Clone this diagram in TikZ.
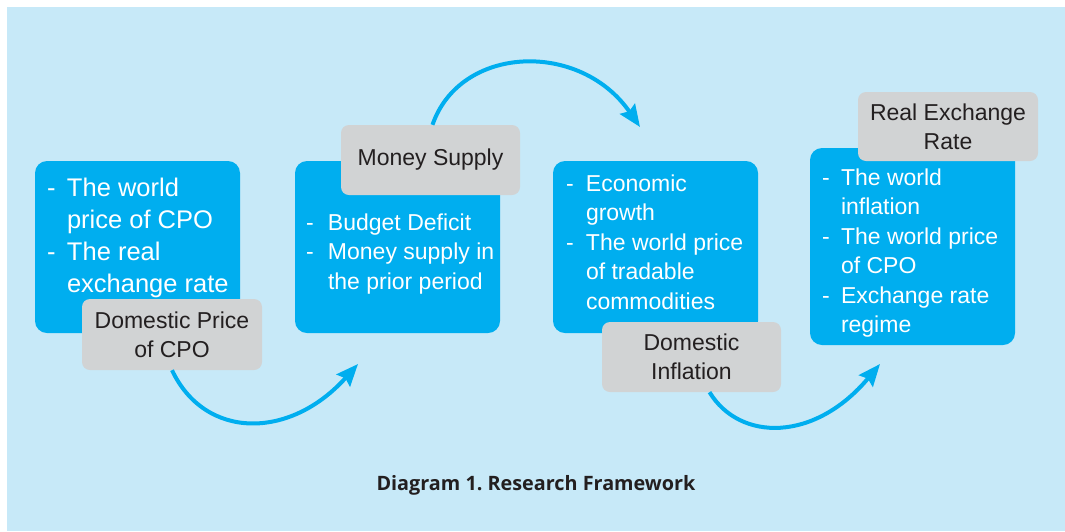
\documentclass[tikz,border=0pt]{standalone}
\usepackage{fontspec}
\setmainfont{Liberation Sans}
\newfontfamily\capfont{Open Sans}
\usetikzlibrary{arrows.meta}
\definecolor{bgblue}{HTML}{C7E9F8}
\definecolor{boxblue}{HTML}{00AEEF}
\definecolor{boxgray}{HTML}{D1D3D4}
\definecolor{darktext}{HTML}{231F20}
\newcommand\dsh[1]{\makebox[#1][l]{-}}
\tikzset{
  bluebox/.style={fill=boxblue, draw=none, rounded corners=12pt, inner sep=0pt, minimum width=205pt},
  graybox/.style={fill=boxgray, draw=none, rounded corners=8pt, inner sep=0pt, minimum width=179pt, minimum height=70pt, align=center, text=darktext, font=\fontsize{23}{29}\selectfont},
  itemtext/.style={anchor=text, inner sep=0pt, text=white},
  flow/.style={draw=boxblue, line width=4pt, -{Stealth[length=22pt,width=18pt,inset=3pt]}}
}
\begin{document}
\begin{tikzpicture}[x=1pt,y=-1pt]
\useasboundingbox (0,0) rectangle (1065,531);
\fill[white] (0,0) rectangle (1065,531);
\fill[bgblue] (7,7) rectangle (1065,531);

% blue boxes
\node[bluebox, minimum height=172pt] (b1) at (137.5,247) {};
\node[bluebox, minimum height=172pt] (b2) at (397.5,247) {};
\node[bluebox, minimum height=172pt] (b3) at (655.5,247) {};
\node[bluebox, minimum height=197pt] (b4) at (912.5,246.5) {};

% texts in blue boxes
\node[itemtext, font=\fontsize{25.5}{32}\selectfont] (t1) at (47,196) {\begin{tabular}[t]{@{}l@{}l@{}}
\dsh{20pt} & The world\\ & price of CPO\\ \dsh{20pt} & The real\\ & exchange rate\end{tabular}};
\node[itemtext, font=\fontsize{23}{29.5}\selectfont] (t2) at (306,230) {\begin{tabular}[t]{@{}l@{}l@{}}
\dsh{22pt} & Budget Deficit\\ \dsh{22pt} & Money supply in\\ & the prior period\end{tabular}};
\node[itemtext, font=\fontsize{23}{29.5}\selectfont] (t3) at (566,191) {\begin{tabular}[t]{@{}l@{}l@{}}
\dsh{20pt} & Economic\\ & growth\\ \dsh{20pt} & The world price\\ & of tradable\\ & commodities\end{tabular}};
\node[itemtext, font=\fontsize{23}{29.5}\selectfont] (t4) at (822,185) {\begin{tabular}[t]{@{}l@{}l@{}}
\dsh{19pt} & The world\\ & inflation\\ \dsh{19pt} & The world price\\ & of CPO\\ \dsh{19pt} & Exchange rate\\ & regime\end{tabular}};

% gray boxes
\node[graybox, minimum width=180pt, minimum height=71pt] (g1) at (172,334.5) {Domestic Price\\of CPO};
\node[graybox] (g2) at (430.5,160) {Money Supply};
\node[graybox] (g3) at (691.5,357) {Domestic\\Inflation};
\node[graybox, minimum width=180pt, minimum height=69pt] (g4) at (948,126.5) {Real Exchange\\Rate};

% arrows
\coordinate (e1) at (358,364);
\coordinate (e2) at (640,127);
\coordinate (e3) at (880,364);
\draw[flow] (g1.south) .. controls (205,440) and (290,440) .. (e1);
\draw[flow] ([xshift=2pt]g2.north) .. controls (460,45) and (580,40) .. (e2);
\draw[flow] ([xshift=18pt]g3.south) .. controls (740,442) and (815,442) .. (e3);

% caption
\node[font=\capfont\bfseries\fontsize{19.8}{23}\selectfont, text=darktext] (cap) at (536,485.5) {Diagram 1.\ Research Framework};
\end{tikzpicture}
\end{document}
